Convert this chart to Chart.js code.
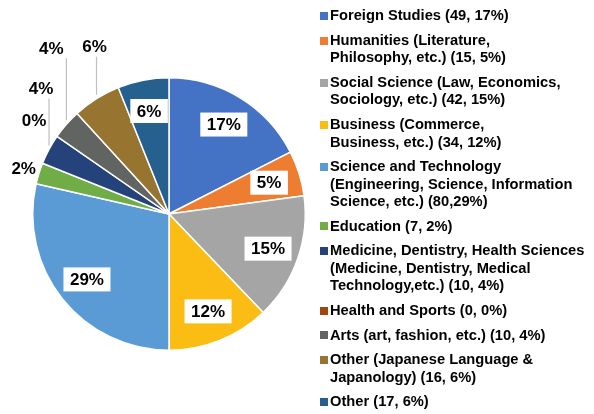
<!DOCTYPE html>
<html>
<head>
<meta charset="utf-8">
<script src="https://cdn.jsdelivr.net/npm/chart.js@4.4.1/dist/chart.umd.min.js"></script>
<style>
  html, body { margin: 0; padding: 0; background: #fff; }
  body { width: 594px; height: 414px; position: relative; overflow: hidden; font-family: "Liberation Sans", Arial, sans-serif; }
  #wrap { position: absolute; left: 0; top: 0; width: 338px; height: 414px; }
  #legenda { position: absolute; left: 320px; top: 7.25px; margin: 0; padding: 0; list-style: none;
             font-weight: bold; font-size: 14.7px; line-height: 17.5px; color: #000; }
  #legenda li { position: relative; padding-left: 10px; margin-bottom: 7.1px; white-space: pre; }
  #legenda li span { position: absolute; left: 0; top: 4.75px; width: 8px; height: 8px; }
</style>
</head>
<body>
<div id="wrap"><canvas id="graficoPizza"></canvas></div>
<ul id="legenda"></ul>
<script>
// Dados
const categorias = [
  "Foreign Studies",
  "Humanities",
  "Social Science",
  "Business",
  "Science and Technology",
  "Education",
  "Medicine, Dentistry, Health Sciences",
  "Health and Sports",
  "Arts",
  "Other (Japanese Language & Japanology)",
  "Other"
];
const valores = [49, 15, 42, 34, 80, 7, 10, 0, 10, 16, 17];
const percentuais = [17, 5, 15, 12, 29, 2, 4, 0, 4, 6, 6];
const textosLegenda = [
  "Foreign Studies (49, 17%)",
  "Humanities (Literature,\nPhilosophy, etc.) (15, 5%)",
  "Social Science (Law, Economics,\nSociology, etc.) (42, 15%)",
  "Business (Commerce,\nBusiness, etc.) (34, 12%)",
  "Science and Technology\n(Engineering, Science, Information\nScience, etc.) (80,29%)",
  "Education (7, 2%)",
  "Medicine, Dentistry, Health Sciences\n(Medicine, Dentistry, Medical\nTechnology,etc.) (10, 4%)",
  "Health and Sports (0, 0%)",
  "Arts (art, fashion, etc.) (10, 4%)",
  "Other (Japanese Language &\nJapanology) (16, 6%)",
  "Other (17, 6%)"
];

// Estilos
const cores = ['#4472c4', '#ed7d31', '#a5a5a5', '#fbbc14', '#5b9bd5', '#70ad47',
               '#25437a', '#9e480e', '#626462', '#97742f', '#25608f'];

// onde cada rótulo fica
const posicoes = [
  {tipo: 'dentro'}, {tipo: 'dentro'}, {tipo: 'dentro'}, {tipo: 'dentro'}, {tipo: 'dentro'},
  {tipo: 'fora', dist: 16},
  {tipo: 'linha', dx: -8, subida: 61},
  {tipo: 'fora', dist: 28},
  {tipo: 'linha', dx: -15, subida: 76},
  {tipo: 'linha', dx: -2, subida: 52},
  {tipo: 'dentro'}
];

const fonteRotulo = 'bold 17px "Liberation Sans", Arial, sans-serif';

const rotulosPlugin = {
  id: 'rotulos',
  afterDatasetsDraw(chart) {
    const ctx = chart.ctx;
    const meta = chart.getDatasetMeta(0);
    ctx.save();
    ctx.font = fonteRotulo;
    ctx.textAlign = 'center';
    ctx.textBaseline = 'middle';
    meta.data.forEach((arc, i) => {
      const p = arc.getProps(['x', 'y', 'startAngle', 'endAngle', 'outerRadius'], true);
      const meio = (p.startAngle + p.endAngle) / 2;
      const cos = Math.cos(meio), sin = Math.sin(meio);
      const txt = percentuais[i] + '%';
      const pos = posicoes[i];

      if (pos.tipo === 'dentro') {
        const x = p.x + cos * p.outerRadius * 0.77;
        const y = p.y + sin * p.outerRadius * 0.77;
        const w = ctx.measureText(txt).width + 13;
        const h = 24;
        ctx.fillStyle = '#fff';
        ctx.fillRect(x - w / 2, y - h / 2, w, h);
        ctx.fillStyle = '#000';
        ctx.fillText(txt, x, y + 1);
      } else if (pos.tipo === 'fora') {
        const d = p.outerRadius + pos.dist;
        ctx.fillStyle = '#000';
        ctx.fillText(txt, p.x + cos * d, p.y + sin * d + 1);
      } else {
        const bx = p.x + cos * p.outerRadius;
        const by = p.y + sin * p.outerRadius;
        const ly = by - pos.subida;
        ctx.strokeStyle = '#bfbfbf';
        ctx.lineWidth = 1.2;
        ctx.beginPath();
        ctx.moveTo(bx, by - 4);
        ctx.lineTo(bx, ly + 10);
        ctx.stroke();
        ctx.fillStyle = '#000';
        ctx.fillText(txt, bx + pos.dx, ly + 1);
      }
    });
    ctx.restore();
  }
};

function montarLegenda() {
  const ul = document.getElementById('legenda');
  textosLegenda.forEach((t, i) => {
    const li = document.createElement('li');
    const sq = document.createElement('span');
    sq.style.background = cores[i];
    li.appendChild(sq);
    li.appendChild(document.createTextNode(t));
    ul.appendChild(li);
  });
}

const canvas = document.getElementById('graficoPizza');
canvas.width = 338;
canvas.height = 414;

new Chart(canvas, {
  type: 'pie',
  data: {
    labels: categorias,
    datasets: [{
      data: valores,
      backgroundColor: cores,
      borderColor: '#fff',
      borderWidth: 1.5
    }]
  },
  options: {
    responsive: false,
    animation: false,
    layout: { padding: { left: 32, right: 32, top: 77, bottom: 63 } },
    plugins: {
      legend: { display: false },
      tooltip: { enabled: false }
    }
  },
  plugins: [rotulosPlugin]
});

montarLegenda();
</script>
</body>
</html>
